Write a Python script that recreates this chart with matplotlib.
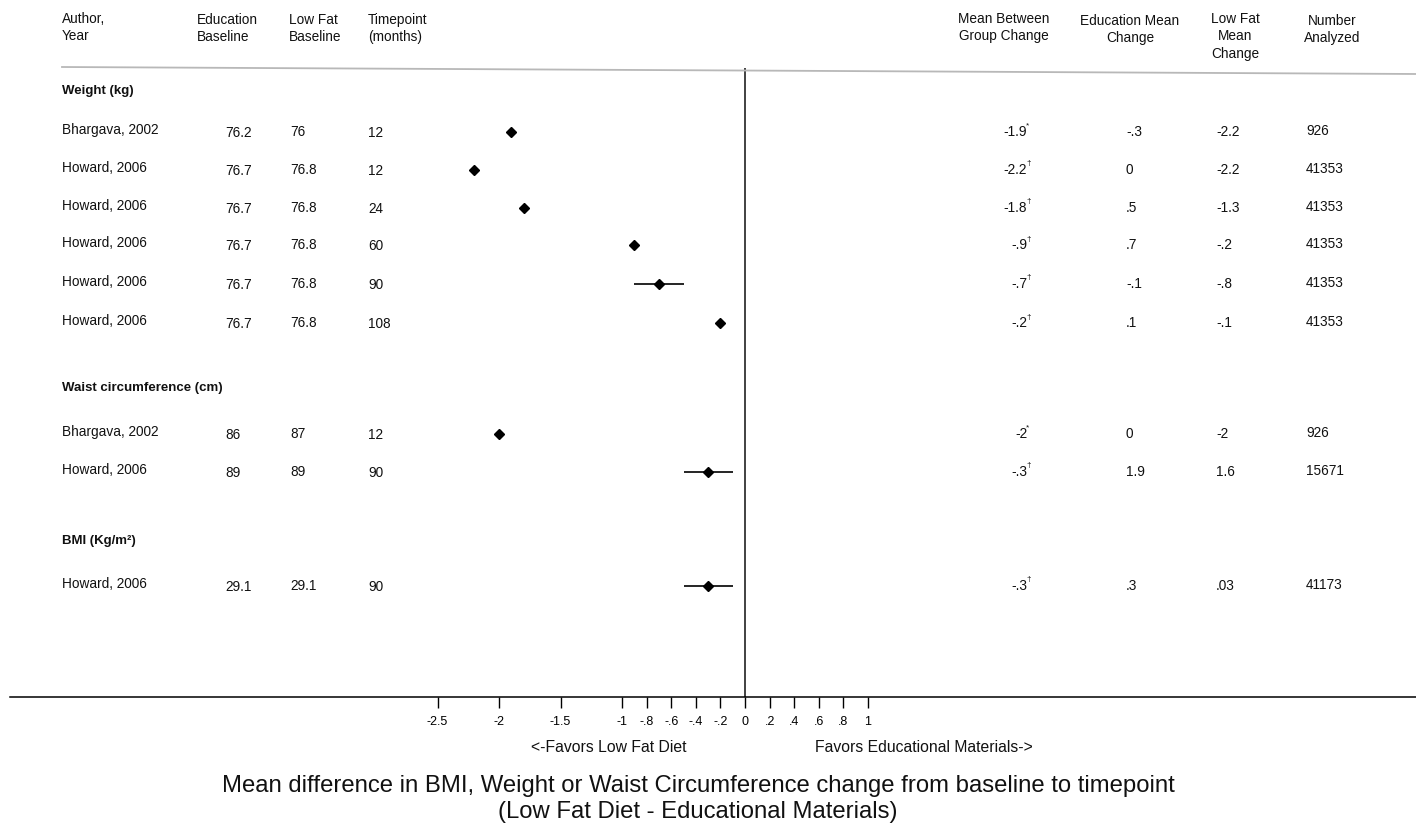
import numpy as np
import matplotlib.pyplot as plt

plt.rcParams['font.family'] = ['Liberation Sans', 'DejaVu Sans']

# ---- data ----
authors = ["Bhargava, 2002", "Howard, 2006", "Howard, 2006", "Howard, 2006",
           "Howard, 2006", "Howard, 2006", "Bhargava, 2002", "Howard, 2006",
           "Howard, 2006"]
edu_base = ["76.2", "76.7", "76.7", "76.7", "76.7", "76.7", "86", "89", "29.1"]
lf_base = ["76", "76.8", "76.8", "76.8", "76.8", "76.8", "87", "89", "29.1"]
timepoint = ["12", "12", "24", "60", "90", "108", "12", "90", "90"]
mean_diff = [-1.9, -2.2, -1.8, -0.9, -0.7, -0.2, -2.0, -0.3, -0.3]
ci_low = [np.nan, np.nan, np.nan, np.nan, -0.9, np.nan, np.nan, -0.5, -0.5]
ci_high = [np.nan, np.nan, np.nan, np.nan, -0.5, np.nan, np.nan, -0.1, -0.1]
diff_labels = ["-1.9", "-2.2", "-1.8", "-.9", "-.7", "-.2", "-2", "-.3", "-.3"]
sig_marks = ["*", "†", "†", "†", "†", "†", "*", "†", "†"]
edu_change = ["-.3", "0", ".5", ".7", "-.1", ".1", "0", "1.9", ".3"]
lf_change = ["-2.2", "-2.2", "-1.3", "-.2", "-.8", "-.1", "-2", "1.6", ".03"]
n_analyzed = ["926", "41353", "41353", "41353", "41353", "41353", "926",
              "15671", "41173"]
headings = ["Weight (kg)", "Waist circumference (cm)", "BMI (Kg/m²)"]
tick_vals = [-2.5, -2, -1.5, -1, -0.8, -0.6, -0.4, -0.2, 0, 0.2, 0.4, 0.6, 0.8, 1]
tick_labels = ["-2.5", "-2", "-1.5", "-1", "-.8", "-.6", "-.4", "-.2", "0",
               ".2", ".4", ".6", ".8", "1"]

# ---- layout (pixel rows of the 1416x827 canvas) ----
W, H = 1416, 827
row_y = [132, 170, 208, 245, 284, 323, 434, 472, 586]
heading_y = [91, 388, 541]
x_zero, px_per_unit = 745, 123
axis_y = 697

fig = plt.figure(figsize=(W / 100, H / 100), dpi=100)


def ft(x, y, s, **kw):
    kw.setdefault('fontsize', 9.8)
    kw.setdefault('va', 'center')
    kw.setdefault('color', '#111111')
    return fig.text(x / W, 1 - y / H, s, **kw)


# forest axis spanning the page, bottom spine is the long axis line
ax = fig.add_axes([10 / W, (H - axis_y) / H, (W - 10) / W, axis_y / H])
ax.set_xlim((10 - x_zero) / px_per_unit, (W - x_zero) / px_per_unit)
ax.set_ylim(axis_y, 0)
for side in ['top', 'left', 'right']:
    ax.spines[side].set_visible(False)
ax.spines['bottom'].set_linewidth(1.1)
ax.set_yticks([])
ax.set_xticks(tick_vals)
ax.set_xticklabels(tick_labels, fontsize=9)
ax.tick_params(axis='x', direction='out', length=8, width=1, pad=6)
ax.patch.set_alpha(0)

ax.vlines(0, 68, axis_y, color='#333333', lw=1.3)
ax.hlines(row_y, ci_low, ci_high, color='black', lw=1.2)
ax.plot(mean_diff, row_y, 'D', color='black', ms=5.5, ls='none')

# grey rule under the headers
fig.add_artist(plt.Line2D([62 / W, 1], [1 - 67 / H, 1 - 74 / H],
                          color='#b8b8b8', lw=1.3))

# headers
hdr = dict(va='top', linespacing=1.3)
ft(62, 12, "Author,\nYear", **hdr)
ft(197, 13, "Education\nBaseline", **hdr)
ft(289, 13, "Low Fat\nBaseline", **hdr)
ft(368, 13, "Timepoint\n(months)", **hdr)
ft(1004, 12, "Mean Between\nGroup Change", ha='center', multialignment='center', **hdr)
ft(1130, 14, "Education Mean\nChange", ha='center', multialignment='center', **hdr)
ft(1235, 12, "Low Fat\nMean\nChange", ha='center', multialignment='center', **hdr)
ft(1332, 14, "Number\nAnalyzed", ha='center', multialignment='center', **hdr)

for hy, h in zip(heading_y, headings):
    ft(62, hy, h, fontweight='bold', fontsize=9.5)

for i, y in enumerate(row_y):
    ft(62, y - 2, authors[i])
    ft(225, y + 1, edu_base[i])
    ft(290, y, lf_base[i])
    ft(368, y + 1, timepoint[i])
    ft(1027, y, diff_labels[i], ha='right')
    ft(1026, y - 6, sig_marks[i], fontsize=6)
    ft(1126, y, edu_change[i])
    ft(1216, y, lf_change[i])
    ft(1306, y - 1, n_analyzed[i])

ft(609, 748, "<-Favors Low Fat Diet", ha='center', fontsize=11.3)
ft(924, 748, "Favors Educational Materials->", ha='center', fontsize=11.3)
ft(698, 786, "Mean difference in BMI, Weight or Waist Circumference change from baseline to timepoint",
   ha='center', fontsize=17.2)
ft(698, 812, "(Low Fat Diet - Educational Materials)", ha='center', fontsize=17.2)

fig.savefig("out.png", dpi=100)
